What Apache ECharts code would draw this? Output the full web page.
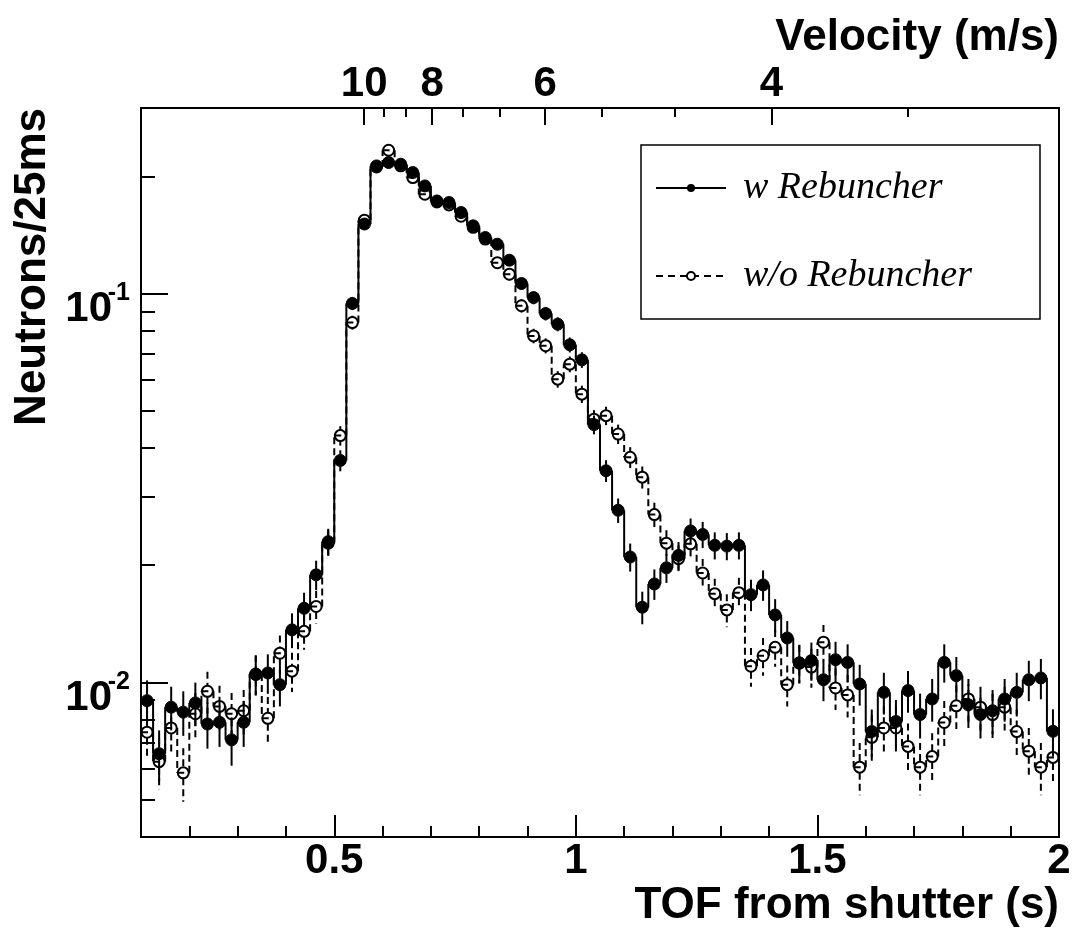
<!DOCTYPE html>
<html>
<head>
<meta charset="utf-8">
<script src="https://cdn.jsdelivr.net/npm/echarts@6/dist/echarts.min.js"></script>
<style>
html,body{margin:0;padding:0;background:#fff;}
#chart{width:1076px;height:938px;}
</style>
</head>
<body>
<div id="chart"></div>
<script>
// ---------- data ----------
const binCenters = [
  0.1125,0.1375,0.1625,0.1875,0.2125,0.2375,0.2625,0.2875,0.3125,0.3375,
  0.3625,0.3875,0.4125,0.4375,0.4625,0.4875,0.5125,0.5375,0.5625,0.5875,
  0.6125,0.6375,0.6625,0.6875,0.7125,0.7375,0.7625,0.7875,0.8125,0.8375,
  0.8625,0.8875,0.9125,0.9375,0.9625,0.9875,1.0125,1.0375,1.0625,1.0875,
  1.1125,1.1375,1.1625,1.1875,1.2125,1.2375,1.2625,1.2875,1.3125,1.3375,
  1.3625,1.3875,1.4125,1.4375,1.4625,1.4875,1.5125,1.5375,1.5625,1.5875,
  1.6125,1.6375,1.6625,1.6875,1.7125,1.7375,1.7625,1.7875,1.8125,1.8375,
  1.8625,1.8875,1.9125,1.9375,1.9625,1.9875
];
const withRebuncher = [
  0.00897,0.00655,0.00863,0.00838,0.00885,0.00781,0.00789,0.00711,0.00789,0.01047,
  0.01057,0.00986,0.01364,0.0155,0.0189,0.0230,0.0372,0.0943,0.1509,0.2129,
  0.2172,0.2151,0.2047,0.1891,0.1730,0.1714,0.1615,0.1493,0.1393,0.1339,
  0.1218,0.1061,0.0976,0.0888,0.0834,0.0738,0.0675,0.0460,0.0350,0.0277,
  0.0210,0.0156,0.0179,0.0197,0.0212,0.0245,0.0240,0.0225,0.0224,0.0225,
  0.0168,0.0178,0.0149,0.0130,0.01122,0.01137,0.01015,0.01143,0.01125,0.0099,
  0.00747,0.00942,0.00793,0.00952,0.00826,0.00906,0.01125,0.0104,0.00875,0.00826,
  0.00845,0.00906,0.00942,0.01015,0.01026,0.00748
];
const withRebuncherErr = [
  0.00114,0.00097,0.00111,0.00110,0.00113,0.00106,0.00107,0.00101,0.00107,0.00123,
  0.00123,0.00119,0.00140,0.00150,0.00165,0.00182,0.00231,0.00369,0.00466,0.00554,
  0.00559,0.00557,0.00543,0.00522,0.00499,0.00497,0.00482,0.00464,0.00448,0.00439,
  0.00419,0.00391,0.00375,0.00358,0.00347,0.00326,0.00312,0.00257,0.00225,0.00200,
  0.00174,0.00150,0.00161,0.00168,0.00175,0.00188,0.00186,0.00180,0.00180,0.00180,
  0.00156,0.00160,0.00146,0.00137,0.00127,0.00128,0.00121,0.00128,0.00127,0.00119,
  0.00104,0.00116,0.00107,0.00117,0.00109,0.00114,0.00127,0.00122,0.00112,0.00109,
  0.00110,0.00114,0.00116,0.00121,0.00122,0.00104
];
const withoutRebuncher = [
  0.00744,0.00625,0.00763,0.00585,0.0083,0.00948,0.00867,0.0083,0.00845,0.0105,
  0.00808,0.01188,0.01068,0.01352,0.01567,0.0228,0.0431,0.0842,0.1544,0.2116,
  0.2336,0.2130,0.1987,0.1800,0.1720,0.1690,0.1580,0.1480,0.1380,0.1200,
  0.1121,0.0930,0.0778,0.0734,0.0602,0.0658,0.0551,0.0475,0.0485,0.0435,
  0.0379,0.0337,0.0270,0.0228,0.0208,0.0227,0.0191,0.0169,0.01535,0.0170,
  0.0110,0.0117,0.0123,0.00986,0.0112,0.01094,0.01268,0.00967,0.00928,0.00605,
  0.00722,0.00763,0.00763,0.00684,0.00605,0.00644,0.00788,0.0087,0.00906,0.00863,
  0.00826,0.00863,0.00747,0.00665,0.00605,0.00641
];
const withoutRebuncherErr = [
  0.00103,0.00095,0.00105,0.00092,0.00109,0.00117,0.00112,0.00109,0.00110,0.00123,
  0.00108,0.00131,0.00124,0.00140,0.00150,0.00181,0.00249,0.00348,0.00472,0.00552,
  0.00580,0.00554,0.00535,0.00509,0.00498,0.00493,0.00477,0.00462,0.00446,0.00416,
  0.00402,0.00366,0.00335,0.00325,0.00294,0.00308,0.00282,0.00262,0.00264,0.00250,
  0.00234,0.00220,0.00197,0.00181,0.00173,0.00181,0.00166,0.00156,0.00149,0.00156,
  0.00126,0.00130,0.00133,0.00119,0.00127,0.00126,0.00135,0.00118,0.00116,0.00093,
  0.00102,0.00105,0.00105,0.00099,0.00093,0.00096,0.00107,0.00112,0.00114,0.00111,
  0.00109,0.00111,0.00104,0.00098,0.00093,0.00096
];
const seriesNames = ['w Rebuncher', 'w/o Rebuncher'];

// ---------- axis ticks ----------
const X_MIN = 0.1, X_MAX = 2.0;
const Y_MIN = 0.004, Y_MAX = 0.3;
const xMajorTicks = [0.5, 1, 1.5, 2];
const xMinorTicks = [0.2,0.3,0.4,0.6,0.7,0.8,0.9,1.1,1.2,1.3,1.4,1.6,1.7,1.8,1.9];
const yMajorTicks = [0.01, 0.1];
const yMinorTicks = [0.004,0.005,0.006,0.007,0.008,0.009,0.02,0.03,0.04,0.05,0.06,0.07,0.08,0.09,0.2,0.3];
const velocityTicks = [10, 8, 6, 4];
const velocityMinorTicks = [9.333, 8.667, 7.333, 6.667, 5.333, 4.667, 3.333];
const FLIGHT_PATH = 5.62; // metres: velocity = FLIGHT_PATH / TOF

// ---------- helpers ----------
const SANS = "'Liberation Sans', Arial, Helvetica, sans-serif";
const SERIF = "'Liberation Serif', 'Times New Roman', serif";
const HALF_BIN = (binCenters[1] - binCenters[0]) / 2;
const BLACK = '#000';

function histData(vals, errs) {
  return binCenters.map((x, i) => [x, vals[i], errs[i], i > 0 ? vals[i - 1] : vals[i]]);
}

function histRender(filled, dash) {
  return function (params, api) {
    const x = api.value(0), v = api.value(1), e = api.value(2), pv = api.value(3);
    const left = api.coord([x - HALF_BIN, v]);
    const right = api.coord([x + HALF_BIN, v]);
    const prev = api.coord([x - HALF_BIN, pv]);
    const c = api.coord([x, v]);
    const hi = api.coord([x, v + e]);
    const lo = api.coord([x, Math.max(v - e, 1e-6)]);
    const ls = { stroke: BLACK, lineWidth: 2, lineDash: dash, fill: null };
    const r = filled ? 6 : 5.5;
    const children = [
      { type: 'line', shape: { x1: prev[0], y1: prev[1], x2: left[0], y2: left[1] }, style: ls },
      { type: 'line', shape: { x1: left[0], y1: left[1], x2: right[0], y2: right[1] }, style: ls }
    ];
    if (hi[1] < c[1] - r) children.push({ type: 'line', shape: { x1: c[0], y1: hi[1], x2: c[0], y2: c[1] - r }, style: ls });
    if (lo[1] > c[1] + r) children.push({ type: 'line', shape: { x1: c[0], y1: c[1] + r, x2: c[0], y2: lo[1] }, style: ls });
    children.push({
      type: 'circle', shape: { cx: c[0], cy: c[1], r: r },
      style: filled ? { fill: BLACK, stroke: BLACK, lineWidth: 1 } : { fill: null, stroke: BLACK, lineWidth: 2 }
    });
    return { type: 'group', children: children };
  };
}

const tickLine = { color: BLACK, width: 2 };
const gridRect = { left: 141, right: 17, top: 108, bottom: 101, containLabel: false, outerBoundsMode: 'none' };
const titleStyle = { fontFamily: SANS, fontWeight: 'bold', fontSize: 44, lineHeight: 48, color: BLACK };

const option = {
  animation: false,
  backgroundColor: '#fff',
  grid: [
    Object.assign({ show: true, borderColor: BLACK, borderWidth: 2, backgroundColor: 'transparent' }, gridRect),
    Object.assign({ show: false }, gridRect)
  ],
  legend: {
    data: seriesNames,
    orient: 'vertical',
    left: 641, top: 145,
    padding: [24, 68, 24, 14],
    itemWidth: 70, itemHeight: 10, itemGap: 50,
    borderColor: BLACK, borderWidth: 1.5, backgroundColor: '#fff',
    selectedMode: false,
    formatter: '{t|{name}}',
    textStyle: {
      color: BLACK,
      rich: { t: { fontFamily: SERIF, fontStyle: 'italic', fontSize: 38, lineHeight: 44, color: BLACK, padding: [0, 0, 0, 12] } }
    }
  },
  xAxis: [
    {
      type: 'value', gridIndex: 0, position: 'bottom', min: X_MIN, max: X_MAX,
      axisLine: { show: true, lineStyle: tickLine },
      axisTick: { show: true, inside: true, length: 22, customValues: xMajorTicks, lineStyle: tickLine },
      axisLabel: {
        show: true, customValues: xMajorTicks, margin: 2, color: BLACK,
        fontFamily: SANS, fontWeight: 'bold', fontSize: 42, lineHeight: 44,
        formatter: v => String(v)
      },
      splitLine: { show: false },
      name: 'TOF from shutter (s)', nameLocation: 'end', nameGap: 0, nameMoveOverlap: false,
      nameTextStyle: Object.assign({ align: 'right', verticalAlign: 'top', padding: [45, 0, 0, 0] }, titleStyle)
    },
    {
      type: 'value', gridIndex: 0, position: 'top', min: X_MIN, max: X_MAX,
      axisLine: { show: true, lineStyle: tickLine },
      axisTick: { show: true, inside: true, length: 17, customValues: velocityTicks.map(v => FLIGHT_PATH / v), lineStyle: tickLine },
      axisLabel: {
        show: true, customValues: velocityTicks.map(v => FLIGHT_PATH / v), margin: 2, color: BLACK,
        fontFamily: SANS, fontWeight: 'bold', fontSize: 42, lineHeight: 44,
        formatter: t => String(Math.round(FLIGHT_PATH / t))
      },
      splitLine: { show: false },
      name: 'Velocity (m/s)', nameLocation: 'end', nameGap: 0, nameMoveOverlap: false,
      nameTextStyle: Object.assign({ align: 'right', verticalAlign: 'bottom', padding: [0, 0, 46, 0] }, titleStyle)
    },
    {
      type: 'value', gridIndex: 1, position: 'bottom', min: X_MIN, max: X_MAX,
      axisLine: { show: false },
      axisTick: { show: true, inside: true, length: 11, customValues: xMinorTicks, lineStyle: tickLine },
      axisLabel: { show: false }, splitLine: { show: false }
    },
    {
      type: 'value', gridIndex: 1, position: 'top', min: X_MIN, max: X_MAX,
      axisLine: { show: false },
      axisTick: { show: true, inside: true, length: 9, customValues: velocityMinorTicks.map(v => FLIGHT_PATH / v), lineStyle: tickLine },
      axisLabel: { show: false }, splitLine: { show: false }
    }
  ],
  yAxis: [
    {
      // major decades: mantissa "10"
      type: 'log', logBase: 10, gridIndex: 0, position: 'left', min: Y_MIN, max: Y_MAX,
      axisLine: { show: true, lineStyle: tickLine },
      axisTick: { show: true, inside: true, length: 27, customValues: yMajorTicks, lineStyle: tickLine },
      axisLabel: {
        show: true, customValues: yMajorTicks, margin: 29, color: BLACK,
        fontFamily: SANS, fontWeight: 'bold', fontSize: 42, lineHeight: 32, verticalAlign: 'top',
        formatter: v => '10'
      },
      splitLine: { show: false },
      name: 'Neutrons/25ms', nameLocation: 'end', nameGap: 0, nameRotate: 90, nameMoveOverlap: false,
      nameTextStyle: Object.assign({ align: 'right', verticalAlign: 'bottom', padding: [0, 0, 84, 0] }, titleStyle)
    },
    {
      // minor ticks + decade exponent as superscript
      type: 'log', logBase: 10, gridIndex: 1, position: 'left', min: Y_MIN, max: Y_MAX,
      axisLine: { show: false },
      axisTick: { show: true, inside: true, length: 14, customValues: yMinorTicks, lineStyle: tickLine },
      axisLabel: {
        show: true, customValues: yMajorTicks, margin: 11, color: BLACK,
        fontFamily: SANS, fontWeight: 'bold', fontSize: 25, lineHeight: 28,
        formatter: v => String(Math.round(Math.log10(v)))
      },
      splitLine: { show: false }
    }
  ],
  series: [
    {
      name: 'w/o Rebuncher hist', type: 'custom', xAxisIndex: 0, yAxisIndex: 0, clip: true, z: 2,
      renderItem: histRender(false, [7, 4]),
      data: histData(withoutRebuncher, withoutRebuncherErr),
      encode: { x: 0, y: 1 }
    },
    {
      name: 'w Rebuncher hist', type: 'custom', xAxisIndex: 0, yAxisIndex: 0, clip: true, z: 3,
      renderItem: histRender(true, null),
      data: histData(withRebuncher, withRebuncherErr),
      encode: { x: 0, y: 1 }
    },
    {
      name: seriesNames[0], type: 'line', xAxisIndex: 0, yAxisIndex: 0, data: [],
      symbol: 'circle', symbolSize: 8,
      itemStyle: { color: BLACK }, lineStyle: { color: BLACK, width: 1.5, type: 'solid' }
    },
    {
      name: seriesNames[1], type: 'line', xAxisIndex: 0, yAxisIndex: 0, data: [],
      symbol: 'emptyCircle', symbolSize: 8,
      itemStyle: { color: BLACK }, lineStyle: { color: BLACK, width: 1.5, type: [7, 5] }
    }
  ]
};

const chart = echarts.init(document.getElementById('chart'), null, { renderer: 'canvas' });
chart.setOption(option);
</script>
</body>
</html>
